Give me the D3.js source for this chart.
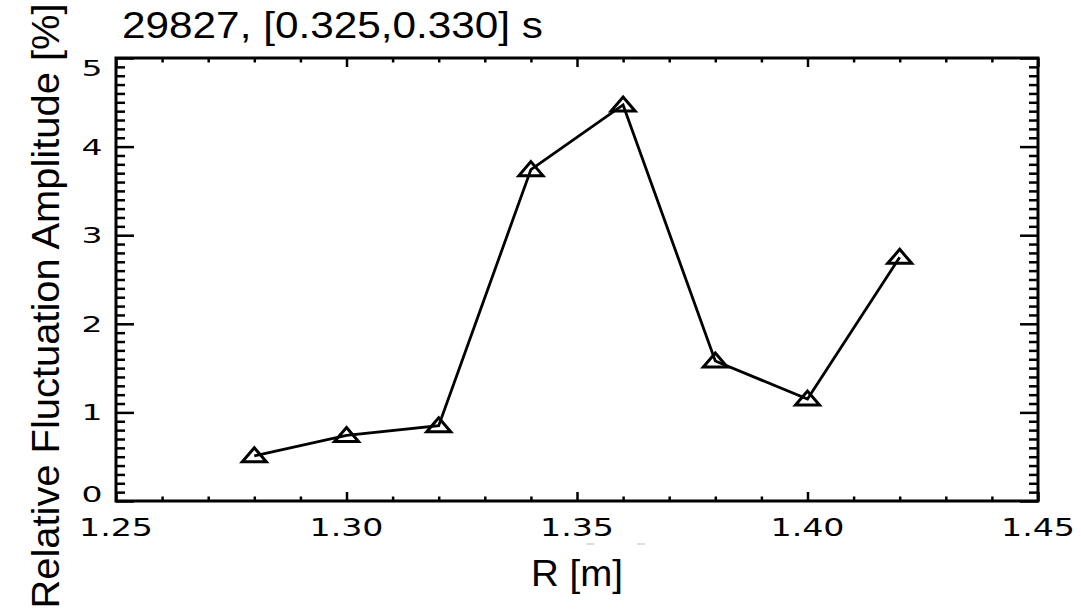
<!DOCTYPE html>
<html>
<head>
<meta charset="utf-8">
<script src="https://cdn.jsdelivr.net/npm/d3@7"></script>
<style>
  body { margin: 0; background: #fff; }
  svg { display: block; }
  .tick-label { font-family: "DejaVu Sans", sans-serif; fill: #000; }
  .title, .axis-title { font-family: "Liberation Sans", Arial, sans-serif; fill: #000; }
</style>
</head>
<body>
<svg width="1081" height="613"></svg>
<script>
// data
const radius = [1.28, 1.30, 1.32, 1.34, 1.36, 1.38, 1.40, 1.42];
const amplitude = [0.51, 0.74, 0.85, 3.74, 4.47, 1.58, 1.15, 2.75];
const xTickValues = [1.25, 1.30, 1.35, 1.40, 1.45];
const xTickLabels = ['1.25', '1.30', '1.35', '1.40', '1.45'];
const yTickValues = [0, 1, 2, 3, 4, 5];
const yTickLabels = ['0', '1', '2', '3', '4', '5'];

const svg = d3.select('svg');
const plotLeft = 116, plotRight = 1038, plotTop = 58, plotBottom = 501;

const x = d3.scaleLinear().domain([1.25, 1.45]).range([plotLeft, plotRight]);
const y = d3.scaleLinear().domain([0, 5]).range([plotBottom, plotTop]);

const xMajorLen = 9, yMajorLen = 18;

// minor ticks
const xMinor = x.ticks(20).filter(v => !xTickValues.some(t => Math.abs(t - v) < 1e-6));
const yMinor = y.ticks(50).filter(v => !yTickValues.some(t => Math.abs(t - v) < 1e-6));

function addAxis(axis, transform) {
  const g = svg.append('g').attr('transform', transform).call(axis);
  g.select('.domain').remove();
  g.selectAll('text').remove();
  g.selectAll('line').attr('stroke', '#000').attr('stroke-width', 2.5);
  return g;
}

// bottom + top
addAxis(d3.axisBottom(x).tickValues(xTickValues).tickSize(-xMajorLen), `translate(0,${plotBottom})`);
addAxis(d3.axisBottom(x).tickValues(xMinor).tickSize(-xMajorLen / 2), `translate(0,${plotBottom})`);
addAxis(d3.axisTop(x).tickValues(xTickValues).tickSize(-xMajorLen), `translate(0,${plotTop})`);
addAxis(d3.axisTop(x).tickValues(xMinor).tickSize(-xMajorLen / 2), `translate(0,${plotTop})`);
// left + right
addAxis(d3.axisLeft(y).tickValues(yTickValues).tickSize(-yMajorLen), `translate(${plotLeft},0)`);
addAxis(d3.axisLeft(y).tickValues(yMinor).tickSize(-yMajorLen / 2), `translate(${plotLeft},0)`);
addAxis(d3.axisRight(y).tickValues(yTickValues).tickSize(-yMajorLen), `translate(${plotRight},0)`);
addAxis(d3.axisRight(y).tickValues(yMinor).tickSize(-yMajorLen / 2), `translate(${plotRight},0)`);

// frame
svg.append('rect')
  .attr('x', plotLeft).attr('y', plotTop)
  .attr('width', plotRight - plotLeft).attr('height', plotBottom - plotTop)
  .attr('fill', 'none').attr('stroke', '#000').attr('stroke-width', 3);

// tick labels
svg.selectAll('.xlab')
  .data(xTickValues)
  .join('text')
  .attr('class', 'tick-label')
  .attr('x', d => x(d))
  .attr('y', 536)
  .attr('text-anchor', 'middle')
  .attr('font-size', 24.5)
  .attr('textLength', 74)
  .attr('lengthAdjust', 'spacingAndGlyphs')
  .text((d, i) => xTickLabels[i]);

// end labels sit inside the axis range, the rest are centred on their ticks
const yLabelShift = d => d === 5 ? 18 : d === 0 ? 1 : 8;
svg.selectAll('.ylab')
  .data(yTickValues)
  .join('text')
  .attr('class', 'tick-label')
  .attr('x', 92)
  .attr('y', d => y(d) + yLabelShift(d))
  .attr('text-anchor', 'middle')
  .attr('font-size', 21)
  .attr('textLength', 21)
  .attr('lengthAdjust', 'spacingAndGlyphs')
  .text((d, i) => yTickLabels[i]);

// titles
svg.append('text')
  .attr('class', 'title')
  .attr('x', 122).attr('y', 38)
  .attr('font-size', 36)
  .attr('textLength', 421)
  .attr('lengthAdjust', 'spacingAndGlyphs')
  .text('29827, [0.325,0.330] s');

svg.append('text')
  .attr('class', 'axis-title')
  .attr('x', (plotLeft + plotRight) / 2).attr('y', 586)
  .attr('text-anchor', 'middle')
  .attr('font-size', 36)
  .attr('textLength', 92)
  .attr('lengthAdjust', 'spacingAndGlyphs')
  .text('R [m]');

svg.append('text')
  .attr('class', 'axis-title')
  .attr('transform', 'translate(59,306) rotate(-90)')
  .attr('text-anchor', 'middle')
  .attr('font-size', 39)
  .attr('textLength', 605)
  .attr('lengthAdjust', 'spacingAndGlyphs')
  .text('Relative Fluctuation Amplitude [%]');

// faint gray dashes under the axis labels
svg.selectAll('.dash')
  .data([1.352, 1.363])
  .join('line')
  .attr('x1', d => x(d)).attr('x2', d => x(d) + 8)
  .attr('y1', 544).attr('y2', 544)
  .attr('stroke', '#bbb').attr('stroke-width', 1);

// data line
const pts = radius.map((r, i) => [r, amplitude[i]]);
svg.append('path')
  .datum(pts)
  .attr('fill', 'none')
  .attr('stroke', '#000')
  .attr('stroke-width', 2.8)
  .attr('d', d3.line().x(d => x(d[0])).y(d => y(d[1])));

// triangle markers
svg.selectAll('.marker')
  .data(pts)
  .join('path')
  .attr('class', 'marker')
  .attr('transform', d => `translate(${x(d[0])},${y(d[1])})`)
  .attr('d', 'M0,-8L12,6L-12,6Z')
  .attr('fill', 'none')
  .attr('stroke', '#000')
  .attr('stroke-width', 3)
  .attr('stroke-linejoin', 'miter');
</script>
</body>
</html>
